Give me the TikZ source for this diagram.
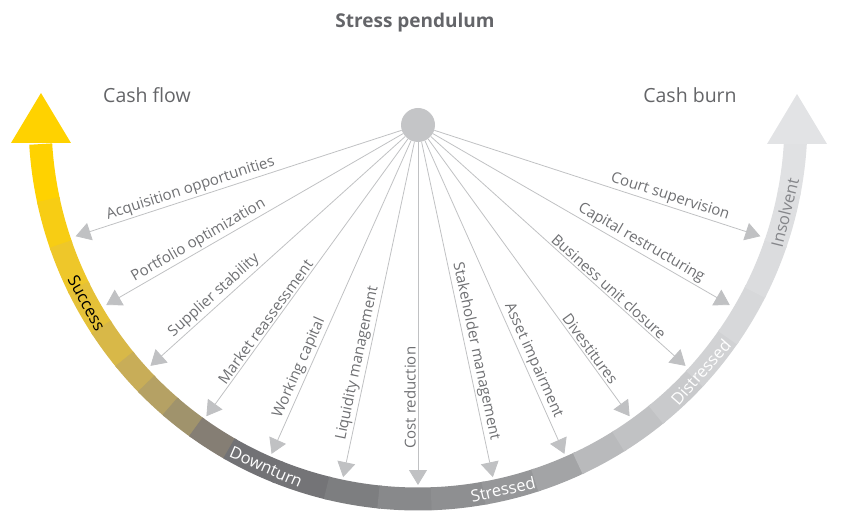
\documentclass[tikz,border=0pt]{standalone}
\usepackage{fontspec}
\setmainfont{Open Sans}
\usepackage{tikz}
\usetikzlibrary{arrows.meta}
\definecolor{labelgray}{HTML}{6F7073}
\definecolor{titlegray}{HTML}{646569}
\definecolor{spokegray}{HTML}{C0C1C3}
\definecolor{pivotgray}{HTML}{C4C5C7}
\definecolor{cashyellow}{HTML}{FFD200}
\definecolor{burngray}{HTML}{E2E3E5}
\definecolor{insolventgray}{HTML}{85868A}

\begin{document}
\begin{tikzpicture}[x=1pt,y=1pt,
		spoke/.style={draw=spokegray,line width=0.8pt,-{Triangle[length=15pt,width=18pt]}},
		spokelabel/.style={text=labelgray,font=\fontsize{15}{17}\selectfont,inner sep=2pt},
		bandlabel/.style={font=\fontsize{16.5}{18}\selectfont,inner sep=0pt},
		heading/.style={text=titlegray,font=\fontsize{19.5}{22}\selectfont}]
		\useasboundingbox (-418,-396) rectangle (432,125);
		% band of the pendulum, piece by piece
		\begin{scope}[shift={(0,4)}]
			\foreach \a/\b/\col in {183.5/192/FFD200,192/199/F7CD14,199/206/EEC72A,206/213/E5C138,
				213/219/D8B848,219/224/C8AD58,224/229/B5A164,229/234/A0936C,234/240/857E74,
				240/248/727275,248/256/747477,256/264/7D7E80,264/272/88898B,272/280/8E8F91,
				280/288/969799,288/295/A3A4A6,295/302/B9BABC,302/309/C1C2C4,309/317/C9CACC,
				317/325/D1D2D4,325/333/D7D8DA,333/341/DBDCDE,341/349/DEDFE1,349/356.5/E0E1E3}{
				\definecolor{seg}{HTML}{\col}
				\pgfmathsetmacro\bb{\b+0.4}
				\fill[seg] (\a:389.5) arc[start angle=\a,end angle=\bb,radius=389.5]
					-- (\bb:366.5) arc[start angle=\bb,end angle=\a,radius=366.5] -- cycle;
			}
			% heads of the band
			\fill[cashyellow] (-407,-22) -- (-377,28) -- (-347,-22) -- cycle;
			\fill[burngray] (349,-23) -- (379,27) -- (409,-23) -- cycle;
			% band labels
			\node[bandlabel,text=black,rotate=298.8] (success) at (208.8:378) {Success};
			\node[bandlabel,text=white,rotate=336.3] (downturn) at (246.3:378) {Downturn};
			\node[bandlabel,text=white,rotate=13] (stressed) at (283:378) {Stressed};
			\node[bandlabel,text=white,rotate=48.4] (distressed) at (318.4:378) {Distressed};
			\node[bandlabel,text=insolventgray,rotate=76] (insolvent) at (346:378) {Insolvent};
		\end{scope}
		% pivot and spokes
		\node[circle,fill=pivotgray,minimum size=34pt,inner sep=0pt] (pivot) at (0,0) {};
		\foreach \ang/\txt in {198/Acquisition opportunities,210/Portfolio optimization,
			222/Supplier stability,234/Market reassessment,246/Working capital,
			258/Liquidity management,270/Cost reduction}{
			\coordinate (tip\ang) at (\ang:360);
			\draw[spoke] (pivot) -- (tip\ang);
			\pgfmathsetmacro\rot{\ang-180}
			\node[spokelabel,anchor=south west,rotate=\rot] (lab\ang) at (\ang:326) {\txt};
		}
		\foreach \ang/\txt in {282/Stakeholder management,294/Asset impairment,306/Divestitures,
			318/Business unit closure,330/Capital restructuring,342/Court supervision}{
			\coordinate (tip\ang) at (\ang:360);
			\draw[spoke] (pivot) -- (tip\ang);
			\node[spokelabel,anchor=south east,rotate=\ang] (lab\ang) at (\ang:326) {\txt};
		}
		% headings
		\node[heading,font=\fontsize{19}{22}\bfseries\selectfont] (title) at (-3,102) {Stress pendulum};
		\node[heading,text=labelgray!90!black] (cashflow) at (-271,30) {Cash flow};
		\node[heading,text=labelgray!90!black] (cashburn) at (272,30) {Cash burn};
	\end{tikzpicture}
\end{document}
